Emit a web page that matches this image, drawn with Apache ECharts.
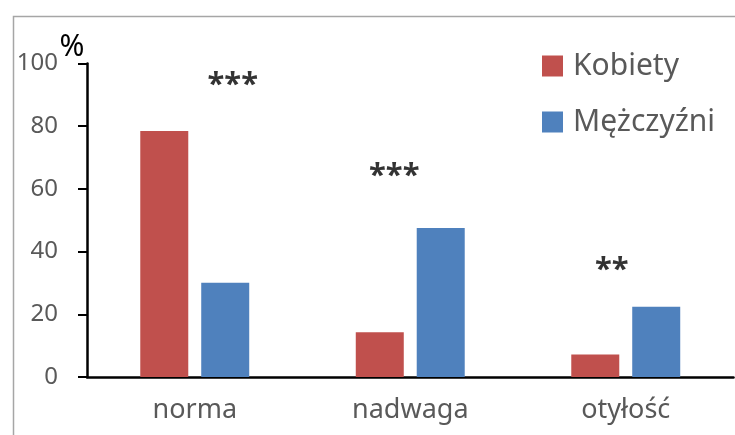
<!DOCTYPE html>
<html>
<head>
<meta charset="utf-8">
<script src="https://cdn.jsdelivr.net/npm/echarts@6/dist/echarts.min.js"></script>
<style>
	html, body { margin: 0; padding: 0; background: #fff; }
	#chart { width: 735px; height: 435px; }
</style>
</head>
<body>
<div id="chart"></div>
<script>
var categories = ['norma', 'nadwaga', 'otyłość'];
var kobiety = [78.5, 14.3, 7.2];
var mezczyzni = [30.1, 47.5, 22.4];
var yTicks = [0, 20, 40, 60, 80, 100];
var yUnit = '%';
// gwiazdki istotnosci i wysokosc na jakiej stoja
var sigLabels = ['***', '***', '**'];
var sigLevels = [93, 64, 34];

var FONT = '"Noto Sans", "Open Sans", sans-serif';
var GRAY = '#595959';

var sigShift = [38, -16, -14];
var sigData = [];
for (var i = 0; i < categories.length; i++) {
	sigData.push({
		value: [categories[i], sigLevels[i]],
		label: { formatter: sigLabels[i], offset: [sigShift[i], 0] }
	});
}

var option = {
	animation: false,
	backgroundColor: '#fff',
	graphic: [{
		type: 'rect',
		left: 11, top: 14,
		shape: { width: 900, height: 600 },
		style: { fill: 'none', stroke: '#a6a6a6', lineWidth: 1.5 },
		silent: true
	}, {
		// jednostka osi Y
		type: 'text',
		style: {
			text: yUnit,
			x: 72, y: 47,
			textAlign: 'center',
			textVerticalAlign: 'middle',
			font: '30px "Noto Sans", sans-serif',
			fill: '#000'
		},
		silent: true
	}],
	legend: {
		orient: 'vertical',
		left: 542, top: 51,
		padding: 0,
		itemWidth: 21, itemHeight: 21,
		itemGap: 26,
		icon: 'rect',
		data: ['Kobiety', 'Mężczyźni'],
		textStyle: { fontFamily: FONT, fontSize: 30, color: GRAY, lineHeight: 30, padding: [0, 0, 0, 5] }
	},
	grid: { left: 87, right: 1.5, top: 63.5, bottom: 58, containLabel: false },
	xAxis: {
		type: 'category',
		data: categories,
		axisLine: { lineStyle: { color: '#000', width: 2.5 } },
		axisTick: { show: false },
		axisLabel: { fontFamily: FONT, fontSize: 27, color: GRAY, margin: 20 }
	},
	yAxis: {
		type: 'value',
		min: yTicks[0], max: yTicks[yTicks.length - 1], interval: 20,
		axisLine: { show: true, lineStyle: { color: '#000', width: 2.5 } },
		axisTick: { show: true, inside: false, length: 9, lineStyle: { color: '#000', width: 2 } },
		axisLabel: { fontFamily: FONT, fontSize: 24, color: GRAY, margin: 29 },
		splitLine: { show: false }
	},
	series: [{
		name: 'Kobiety',
		type: 'bar',
		data: kobiety,
		barWidth: 48,
		barGap: '27%',
		itemStyle: { color: '#C0504D' }
	}, {
		name: 'Mężczyźni',
		type: 'bar',
		data: mezczyzni,
		barWidth: 48,
		barGap: '27%',
		itemStyle: { color: '#4F81BD' }
	}, {
		name: 'sig',
		type: 'scatter',
		data: sigData,
		symbolSize: 0,
		silent: true,
		label: {
			show: true,
			position: 'inside',
			fontFamily: FONT,
			fontSize: 31,
			fontWeight: 'bold',
			color: '#000'
		}
	}]
};

var chart = echarts.init(document.getElementById('chart'));
chart.setOption(option);
</script>
</body>
</html>
